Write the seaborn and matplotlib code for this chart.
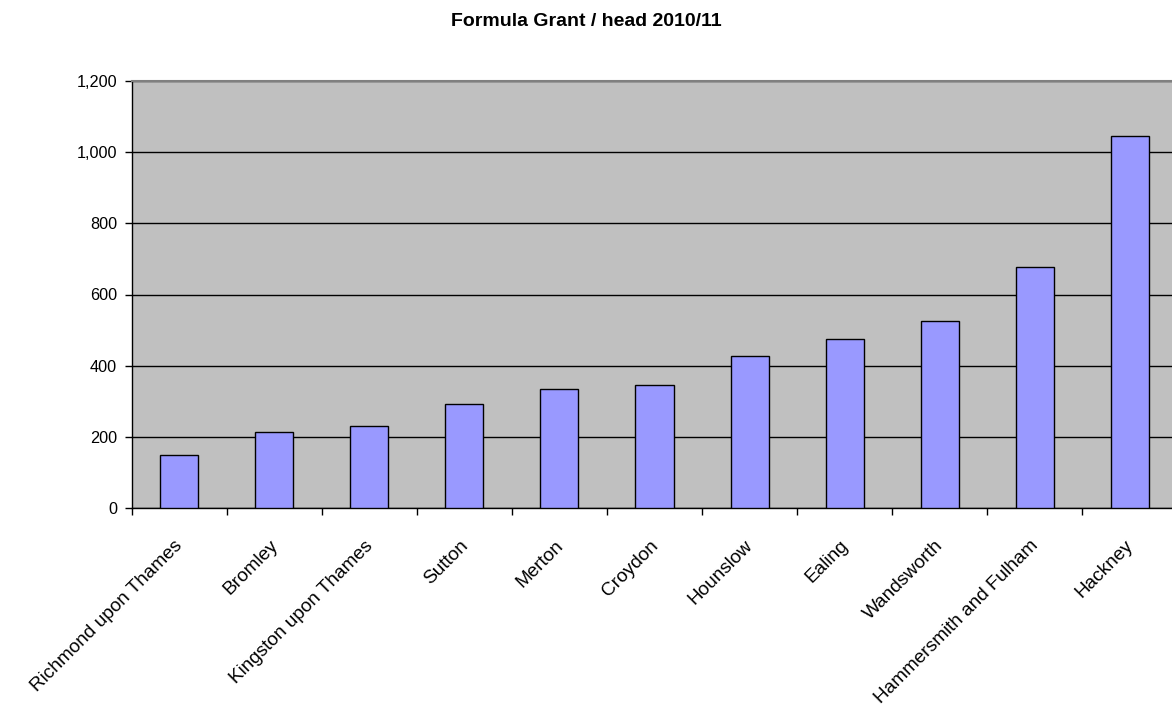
import matplotlib
matplotlib.use("Agg")
import matplotlib.pyplot as plt
import matplotlib.transforms as mtransforms
from matplotlib.ticker import FixedLocator, FuncFormatter
import seaborn as sns
import pandas as pd

boroughs = [
    "Richmond upon Thames", "Bromley", "Kingston upon Thames", "Sutton",
    "Merton", "Croydon", "Hounslow", "Ealing", "Wandsworth",
    "Hammersmith and Fulham", "Hackney",
]
grant_per_head = [150, 215, 231, 293, 336, 347, 427, 474, 525, 677, 1046]
y_ticks = [0, 200, 400, 600, 800, 1000, 1200]
title = "Formula Grant / head 2010/11"

sns.set_theme(style="white")
plt.rcParams["font.family"] = ["Liberation Sans", "DejaVu Sans"]
plt.rcParams["text.color"] = "black"
plt.rcParams["xtick.color"] = "black"
plt.rcParams["ytick.color"] = "black"

df = pd.DataFrame({"borough": boroughs, "value": grant_per_head})

fig = plt.figure(figsize=(11.72, 7.04), dpi=100)
ax = fig.add_axes([131.5 / 1172, 1 - 508.3 / 704, 1046 / 1172, 427.6 / 704])
ax.set_facecolor("#C0C0C0")

sns.barplot(data=df, x="borough", y="value", color="#9999FF", width=0.4,
            edgecolor="black", linewidth=1.0, saturation=1, ax=ax, zorder=3)

ax.set_ylim(0, 1200)
ax.set_xlim(-0.5, len(boroughs) - 0.5)
ax.set_yticks(y_ticks)
ax.yaxis.set_major_formatter(FuncFormatter(lambda v, p: f"{int(v):,}"))
ax.grid(axis="y", color="black", linewidth=1.0, zorder=1)
ax.set_axisbelow(True)

# category ticks between bars, labels centred on bars
ax.xaxis.set_minor_locator(FixedLocator([i - 0.5 for i in range(len(boroughs) + 1)]))
ax.tick_params(axis="x", which="major", length=0, pad=0, bottom=True)
ax.tick_params(axis="x", which="minor", length=5, width=1, color="black",
               direction="out", bottom=True)
ax.tick_params(axis="y", length=5, width=1, color="black", direction="out", pad=5.5,
               labelsize=11.7, left=True, labelcolor="black")

offset = mtransforms.ScaledTranslation(1 / 100, -35 / 100, fig.dpi_scale_trans)
for lab in ax.get_xticklabels():
    lab.set_rotation(45)
    lab.set_ha("right")
    lab.set_va("center")
    lab.set_rotation_mode("anchor")
    lab.set_fontsize(13.7)
    lab.set_color("black")
    lab.set_transform(lab.get_transform() + offset)

ax.set_xlabel("")
ax.set_ylabel("")

for side in ("left", "bottom"):
    ax.spines[side].set_color("black")
    ax.spines[side].set_linewidth(1.0)
ax.spines["top"].set_color("#808080")
ax.spines["top"].set_linewidth(1.5)
ax.spines["right"].set_color("#808080")
ax.spines["right"].set_linewidth(1.5)

fig.text(0.5, 1 - 22 / 704, title, ha="center", va="center",
         fontsize=14, fontweight="bold", color="black")

fig.savefig("out.png", dpi=100)
